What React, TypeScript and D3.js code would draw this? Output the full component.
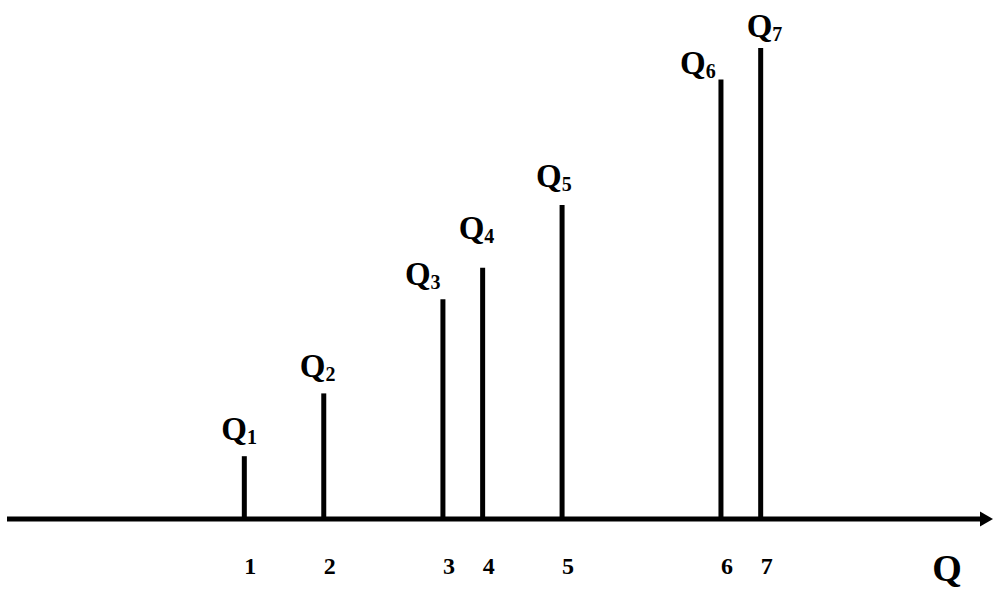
import * as d3 from "d3";
import React from "react";

const WIDTH = 993;
const HEIGHT = 589;

// position of each quantity along the axis and the height of its bar
const ticks = ["1", "2", "3", "4", "5", "6", "7"];
const positions = [6, 8, 11, 12, 14, 18, 19];
const heights = [2, 4, 7, 8, 10, 14, 15];
const subs = ["1", "2", "3", "4", "5", "6", "7"];

// where each Q label sits relative to the top of its bar
const labelDx = [-23, -24, -38, -24, -26, -41, -14];
const labelDy = [-16, -16, -14, -29, -18, -5, -11];

const FONT = "'Liberation Serif', 'Times New Roman', serif";

const App = () => {
	const x = d3.scaleLinear().domain([0, 25]).range([6, 999]);
	const y = d3.scaleLinear().domain([0, 15]).range([519, 48]);
	const y0 = y(0);

	return (
		<svg width={WIDTH} height={HEIGHT} viewBox={`0 0 ${WIDTH} ${HEIGHT}`} style={{ position: "absolute", left: 0, top: 0, background: "#fff" }}>
			{/* horizontal axis with arrow */}
			<line x1={7} x2={982} y1={y0} y2={y0} stroke="#000" strokeWidth={5} />
			<path d={`M980,${y0 - 7.5} L993,${y0} L980,${y0 + 7.5} Z`} fill="#000" />

			{positions.map((p, i) => (
				<g key={i}>
					<line x1={x(p)} x2={x(p)} y1={y0} y2={y(heights[i])} stroke="#000" strokeWidth={5} />
					<text x={x(p) + labelDx[i]} y={y(heights[i]) + labelDy[i]} fontFamily={FONT} fontWeight="bold" fontSize={33}>
						<tspan>Q</tspan>
						<tspan fontSize={20} dy={4}>{subs[i]}</tspan>
					</text>
					<text x={x(p) + 6} y={574} fontFamily={FONT} fontWeight="bold" fontSize={24} textAnchor="middle">
						{ticks[i]}
					</text>
				</g>
			))}

			<text x={947} y={581} fontFamily={FONT} fontWeight="bold" fontSize={38} textAnchor="middle">
				Q
			</text>
		</svg>
	);
};

export default App;
